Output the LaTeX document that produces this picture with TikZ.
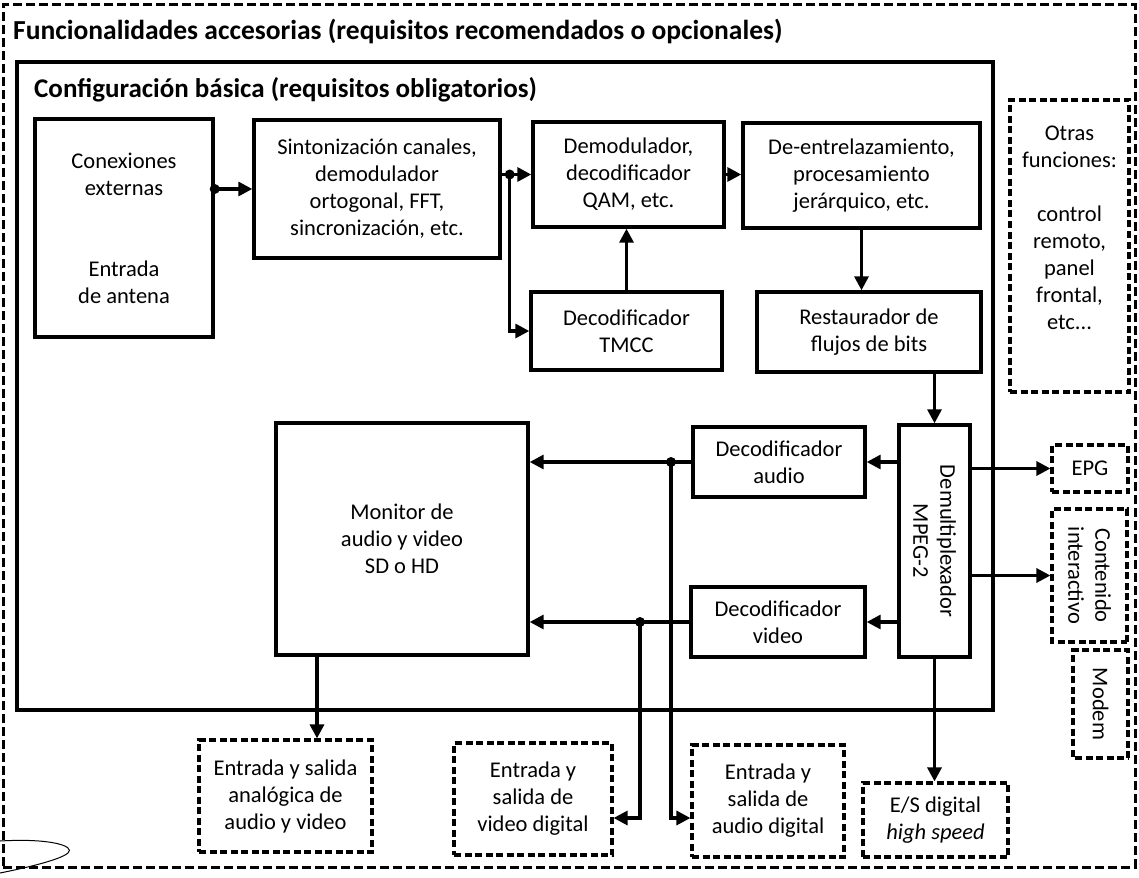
\documentclass[tikz,border=0pt]{standalone}
\usepackage{fontspec}
\setmainfont{Carlito}
\usetikzlibrary{arrows.meta,calc}
\newcommand{\diagbody}{\fontsize{22.5}{27}\selectfont}
\newcommand{\diagtitle}{\fontsize{27.5}{30}\selectfont\bfseries}
\newcommand{\diagtitleb}{\fontsize{27}{30}\selectfont\bfseries}
\begin{document}
\begin{tikzpicture}[x=1pt,y=-1pt,
  box/.style={draw, line width=3.4pt, rectangle, inner sep=0pt, align=center, font=\diagbody},
  dbox/.style={box, line width=3.2pt, dash pattern=on 7pt off 3.5pt},
  arr/.style={line width=3.2pt, -{Triangle[length=14pt,width=14pt]}},
  dot/.style={circle, fill, inner sep=0pt, minimum size=10pt},
  ttl/.style={anchor=base west, inner sep=0pt}]
\useasboundingbox (0,0) rectangle (1139,877);

% containers
\node[draw, line width=3pt, dash pattern=on 9pt off 4pt, minimum width=1132pt, minimum height=862pt, inner sep=0pt] (acc) at (569,436) {};
\node[draw, line width=4.8pt, minimum width=976pt, minimum height=648pt, inner sep=0pt] (basic) at (505,386) {};
\node[ttl, font=\diagtitle] (t1) at (13,40) {Funcionalidades accesorias (requisitos recomendados o opcionales)};
\node[ttl, font=\diagtitleb] (t2) at (34,98) {Configuración básica (requisitos obligatorios)};

% blocks
\node[box, minimum width=178pt, minimum height=218pt] (A) at (124,228) {Conexiones\\externas\\[54pt]Entrada\\de antena};
\node[box, minimum width=246pt, minimum height=138pt] (B) at (377,189) {Sintonización canales,\\demodulador\\ortogonal, FFT,\\sincronización, etc.};
\node[box, minimum width=191pt, minimum height=105pt] (C) at (628.5,174.5) {Demodulador,\\decodificador\\QAM, etc.};
\node[box, minimum width=237pt, minimum height=105pt] (D) at (861.5,175.5) {De-entrelazamiento,\\procesamiento\\jerárquico, etc.};
\node[box, minimum width=191pt, minimum height=78pt] (E) at (626.5,331) {Decodificador\\TMCC};
\node[box, minimum width=224pt, minimum height=80pt] (F) at (869,332) {Restaurador de\\flujos de bits};
\node[dbox, minimum width=119pt, minimum height=292pt] (G) at (1069.5,246) {};
\node[font=\diagbody, align=center, inner sep=0pt] (Gtext) at ($(G.center)+(0,-18)$) {Otras\\funciones:\\[27pt]control\\remoto,\\panel\\frontal,\\etc...};
\node[box, rotate=-90, minimum width=232pt, minimum height=71pt] (H) at (934.5,541) {Demultiplexador\\MPEG-2};
\node[box, minimum width=172pt, minimum height=70pt] (I) at (779,462) {Decodificador\\audio};
\node[box, minimum width=174pt, minimum height=70pt] (J) at (778,622) {Decodificador\\video};
\node[box, minimum width=252pt, minimum height=232pt] (K) at (402,539) {Monitor de\\audio y video\\SD o HD};
\node[dbox, minimum width=76pt, minimum height=47pt] (L) at (1090,468.5) {EPG};
\node[dbox, rotate=-90, minimum width=133pt, minimum height=75pt] (M) at (1089.5,575.5) {Contenido\\interactivo};
\node[dbox, rotate=-90, minimum width=108pt, minimum height=55pt] (N) at (1100.5,704) {Modem};
\node[dbox, minimum width=173pt, minimum height=112pt] (O) at (285.5,796) {Entrada y salida\\analógica de\\audio y video};
\node[dbox, minimum width=158pt, minimum height=112pt] (P) at (533,799) {Entrada y\\salida de\\video digital};
\node[dbox, minimum width=152pt, minimum height=112pt] (Q) at (768,801) {Entrada y\\salida de\\audio digital};
\node[dbox, minimum width=145pt, minimum height=74pt] (R) at (935.5,820) {E/S digital\\\textit{high speed}};

% junction points (H, M and N are turned: H.west is the top side, H.east the bottom,
% H.south the left side and H.north the right side)
\coordinate (jA) at (A.east |- B.west);
\coordinate (jB) at ($(B.east |- C.west)+(8,0)$);
\coordinate (ja) at (671,0 |- I.west);
\coordinate (jv) at (640,0 |- J.west);
\coordinate (ko) at (317,0);

% connectors
\draw[arr] (jA) -- (B.west);
\draw[arr] (B.east |- C.west) -- (C.west);
\draw[arr] (jB) |- (E.west);
\draw[arr] (E.north) -- (E.north |- C.south);
\draw[arr] (C.east) -- (C.east -| D.west);
\draw[arr] (D.south) -- (D.south |- F.north);
\draw[arr] (H.west |- F.south) -- (H.west);
\draw[arr] (H.south |- I.east) -- (I.east);
\draw[arr] (H.south |- J.east) -- (J.east);
\draw[arr] (I.west) -- (I.west -| K.east);
\draw[arr] (J.west) -- (J.west -| K.east);
\draw[arr] (ja) |- ($(Q.west)+(0,17)$);
\draw[arr] (jv) |- ($(P.east)+(0,19)$);
\draw[arr] (K.south -| ko) -- (O.north -| ko);
\draw[arr] (H.east) -- (H.east |- R.north);
\draw[arr] (H.north |- L.west) -- (L.west);
\draw[arr] (H.north |- M.south) -- (M.south);

\node[dot] (dA) at (jA) {};
\node[dot] (dB) at (jB) {};
\node[dot] (da) at (ja) {};
\node[dot] (dv) at (jv) {};

% pen mark in the lower-left corner
\draw[line width=1pt] (0,841) .. controls (50,838) and (76,846) .. (68,853) .. controls (60,860) and (25,868) .. (0,873);
\end{tikzpicture}
\end{document}
